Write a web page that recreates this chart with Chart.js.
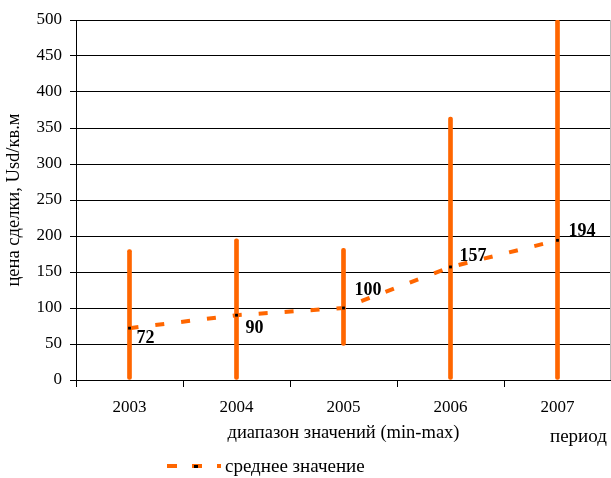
<!DOCTYPE html>
<html>
<head>
<meta charset="utf-8">
<script src="https://cdn.jsdelivr.net/npm/chart.js@4/dist/chart.umd.min.js"></script>
<style>
html,body{margin:0;padding:0;background:#fff;}
#wrap{width:611px;height:478px;position:relative;}
</style>
</head>
<body>
<div id="wrap"><canvas id="c" width="611" height="478"></canvas></div>
<script>
const years = ['2003', '2004', '2005', '2006', '2007'];
const minValues = [0, 0, 48, 0, 0];
const maxValues = [181, 196, 183, 365, 500];
const meanValues = [72, 90, 100, 157, 194];
const yTickValues = [0, 50, 100, 150, 200, 250, 300, 350, 400, 450, 500];

const seriesTitle = 'среднее значение';
const yTitle = 'цена сделки, Usd/кв.м';
const xTitle = 'диапазон значений (min-max)';
const periodLabel = 'период';

const ORANGE = '#FF6600';
const FONT = "'Liberation Serif', 'Times New Roman', serif";

const rangeData = years.map((y, i) => [minValues[i], maxValues[i]]);

const labelPlugin = {
  id: 'extras',
  afterDatasetsDraw(chart, args, opts) {
    const ctx = chart.ctx;
    const area = chart.chartArea;
    const meta = chart.getDatasetMeta(1);
    ctx.save();
    ctx.strokeStyle = '#bbb';
    ctx.lineWidth = 1;
    ctx.beginPath();
    ctx.moveTo(area.right - 0.5, area.top);
    ctx.lineTo(area.right - 0.5, area.bottom);
    ctx.stroke();
    ctx.fillStyle = '#000';
    ctx.font = "bold 18px " + FONT;
    ctx.textAlign = 'left';
    ctx.textBaseline = 'middle';
    meta.data.forEach((pt, i) => {
      ctx.fillText(String(meanValues[i]), pt.x + opts.dx[i], pt.y + opts.dy[i]);
    });
    ctx.font = "19px " + FONT;
    ctx.fillText(periodLabel, 550, 437);
    ctx.strokeStyle = ORANGE;
    ctx.lineWidth = 4;
    ctx.setLineDash([10, 15]);
    ctx.beginPath();
    ctx.moveTo(167, 466);
    ctx.lineTo(221, 466);
    ctx.stroke();
    ctx.setLineDash([]);
    ctx.fillStyle = '#000';
    ctx.fillRect(194, 465, 4, 3);
    ctx.fillText(seriesTitle, 225, 467);
    ctx.restore();
  }
};

new Chart(document.getElementById('c'), {
  data: {
    labels: years,
    datasets: [
      {
        type: 'bar',
        label: 'диапазон',
        data: rangeData,
        backgroundColor: ORANGE,
        borderWidth: 0,
        barThickness: 4,
        borderRadius: 2,
        borderSkipped: false,
        order: 2
      },
      {
        type: 'line',
        label: seriesTitle,
        data: meanValues,
        borderColor: ORANGE,
        borderWidth: 4,
        borderDash: [9, 17],
        borderCapStyle: 'butt',
        tension: 0,
        fill: false,
        pointStyle: 'rect',
        pointRadius: 2,
        pointBackgroundColor: '#000',
        pointBorderWidth: 0,
        order: 1
      }
    ]
  },
  options: {
    responsive: false,
    animation: false,
    layout: { autoPadding: false, padding: { top: 20, right: 0, left: 0, bottom: 0 } },
    plugins: {
      legend: { display: false },
      tooltip: { enabled: false },
      extras: { dx: [7, 9, 11, 9, 11], dy: [10, 13, -18, -11, -9] }
    },
    scales: {
      x: {
        offset: true,
        grid: { offset: true, drawOnChartArea: false, drawTicks: true, tickLength: 7, color: '#000' },
        border: { color: '#000', width: 1 },
        ticks: { color: '#000', font: { family: FONT, size: 17 }, padding: 10, maxRotation: 0 },
        title: { display: true, text: xTitle, color: '#000', font: { family: FONT, size: 18.5 }, padding: { top: 0, bottom: 34 } },
        afterFit(scale) { scale.height = 98; scale.paddingLeft = 0; scale.paddingRight = 0; }
      },
      y: {
        min: 0,
        max: 500,
        afterBuildTicks(scale) { scale.ticks = yTickValues.map(v => ({ value: v })); },
        grid: { color: '#000', lineWidth: 1, tickLength: 6 },
        border: { color: '#000', width: 1 },
        ticks: { color: '#000', font: { family: FONT, size: 17 }, padding: 8 },
        title: { display: true, text: yTitle, color: '#000', font: { family: FONT, size: 18.5 }, padding: { top: 3, bottom: 0 } },
        afterFit(scale) { scale.width = 76; }
      }
    }
  },
  plugins: [labelPlugin]
});
</script>
</body>
</html>
